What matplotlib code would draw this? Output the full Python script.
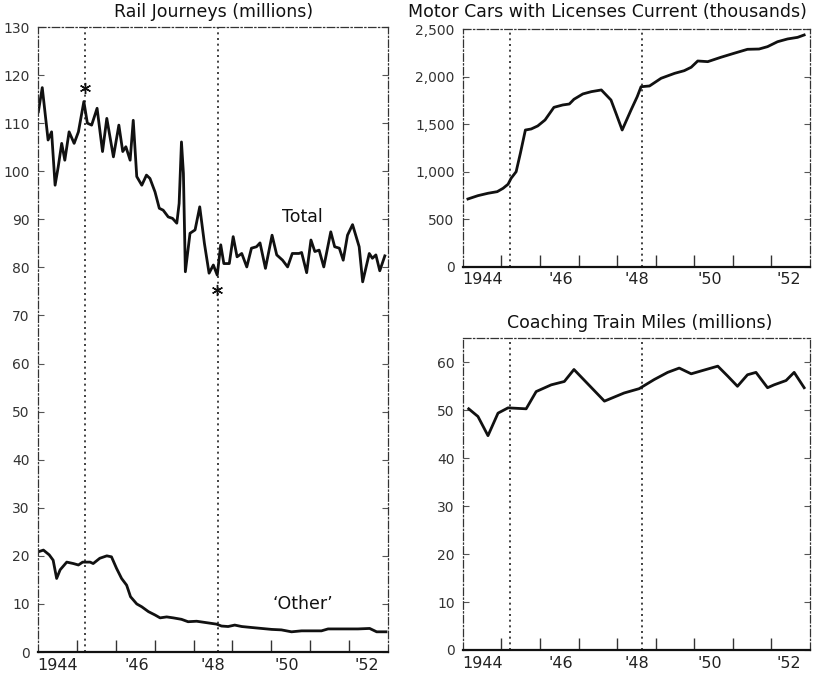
import matplotlib
matplotlib.use('Agg')
from matplotlib import pyplot as plt

# 数据 (从图上读出的近似值, 横轴为年份)
total_x = [1944.01, 1944.11, 1944.26, 1944.35, 1944.44, 1944.52, 1944.61, 1944.69, 1944.80, 1944.93,
           1945.04, 1945.18, 1945.27, 1945.38, 1945.52, 1945.66, 1945.77, 1945.94, 1946.08, 1946.18,
           1946.26, 1946.37, 1946.45, 1946.54, 1946.67, 1946.79, 1946.88, 1947.01, 1947.12, 1947.22,
           1947.35, 1947.46, 1947.57, 1947.63, 1947.69, 1947.74, 1947.79, 1947.91, 1948.04, 1948.16,
           1948.28, 1948.40, 1948.51, 1948.61, 1948.70, 1948.78, 1948.92, 1949.02, 1949.12, 1949.24,
           1949.37, 1949.49, 1949.62, 1949.71, 1949.85, 1950.02, 1950.14, 1950.29, 1950.42, 1950.54,
           1950.71, 1950.78, 1950.91, 1951.02, 1951.12, 1951.23, 1951.35, 1951.53, 1951.63, 1951.75,
           1951.85, 1951.96, 1952.09, 1952.26, 1952.35, 1952.52, 1952.60, 1952.69, 1952.79, 1952.92]
total_y = [112.4, 117.4, 106.5, 108.2, 97.1, 100.9, 105.8, 102.3, 108.2, 105.8,
           108.2, 114.5, 110.0, 109.6, 113.1, 104.1, 111.0, 103.0, 109.6, 104.1,
           105.1, 102.3, 110.6, 98.9, 97.1, 99.2, 98.5, 95.7, 92.3, 91.9,
           90.5, 90.2, 89.2, 93.3, 106.1, 99.6, 79.1, 87.1, 87.8, 92.6,
           85.0, 78.8, 80.5, 78.4, 84.7, 80.8, 80.8, 86.4, 82.2, 82.9,
           80.1, 84.0, 84.3, 85.1, 79.8, 86.7, 82.6, 81.5, 80.1, 82.9,
           82.9, 83.1, 78.9, 85.7, 83.3, 83.6, 80.1, 87.4, 84.3, 84.0,
           81.5, 86.7, 88.9, 84.3, 77.0, 82.9, 81.9, 82.6, 79.3, 82.4]

other_x = [1944.03, 1944.14, 1944.29, 1944.39, 1944.48, 1944.57, 1944.74, 1944.91, 1945.04, 1945.15,
           1945.34, 1945.42, 1945.59, 1945.77, 1945.89, 1946.02, 1946.15, 1946.28, 1946.38, 1946.54,
           1946.67, 1946.84, 1947.01, 1947.14, 1947.31, 1947.48, 1947.69, 1947.86, 1948.08, 1948.25,
           1948.42, 1948.59, 1948.72, 1948.89, 1949.06, 1949.24, 1949.49, 1949.75, 1950.01, 1950.26,
           1950.52, 1950.78, 1951.04, 1951.29, 1951.46, 1951.68, 1951.94, 1952.23, 1952.53, 1952.71,
           1952.95]
other_y = [20.9, 21.2, 20.2, 19.1, 15.3, 17.1, 18.7, 18.4, 18.1, 18.7,
           18.7, 18.4, 19.5, 20.0, 19.8, 17.4, 15.3, 13.9, 11.5, 10.0,
           9.4, 8.4, 7.7, 7.1, 7.3, 7.1, 6.8, 6.3, 6.4, 6.2,
           6.0, 5.8, 5.4, 5.3, 5.6, 5.3, 5.1, 4.9, 4.7, 4.6,
           4.2, 4.4, 4.4, 4.4, 4.8, 4.8, 4.8, 4.8, 4.9, 4.2,
           4.2]

cars_x = [1944.13, 1944.39, 1944.65, 1944.89, 1945.04, 1945.17, 1945.25, 1945.38, 1945.49, 1945.62,
          1945.77, 1945.94, 1946.13, 1946.36, 1946.59, 1946.76, 1946.88, 1947.11, 1947.33, 1947.59,
          1947.84, 1947.97, 1948.13, 1948.36, 1948.52, 1948.62, 1948.84, 1949.14, 1949.49, 1949.74,
          1949.92, 1950.09, 1950.35, 1950.69, 1951.03, 1951.38, 1951.68, 1951.90, 1952.16, 1952.42,
          1952.68, 1952.85]
cars_y = [713, 748, 773, 790, 825, 868, 931, 1000, 1194, 1439,
          1450, 1482, 1545, 1678, 1703, 1713, 1763, 1819, 1843, 1861,
          1755, 1615, 1439, 1650, 1790, 1895, 1903, 1984, 2036, 2064,
          2100, 2166, 2159, 2205, 2247, 2289, 2292, 2317, 2369, 2398,
          2415, 2440]

miles_x = [1944.15, 1944.39, 1944.65, 1944.91, 1945.17, 1945.64, 1945.90, 1946.29, 1946.63, 1946.88,
           1947.67, 1948.18, 1948.57, 1948.96, 1949.31, 1949.61, 1949.92, 1950.22, 1950.61, 1950.87,
           1951.12, 1951.38, 1951.60, 1951.90, 1952.07, 1952.38, 1952.59, 1952.85]
miles_y = [50.3, 48.7, 44.7, 49.4, 50.5, 50.3, 53.9, 55.3, 56.0, 58.5,
           51.9, 53.6, 54.5, 56.4, 57.9, 58.8, 57.6, 58.3, 59.2, 57.1,
           55.0, 57.4, 57.9, 54.7, 55.3, 56.2, 57.9, 54.7]

year_ticks = [1945, 1946, 1947, 1948, 1949, 1950, 1951, 1952]
year_label_pos = [1944.5, 1946.55, 1948.5, 1950.4, 1952.45]
year_labels = ['1944', "'46", "'48", "'50", "'52"]
event_lines = [1945.22, 1948.64]
star_x = [1945.22, 1948.6]
star_y = [117.4, 75.4]

plt.rcParams['font.family'] = ['DejaVu Sans']
INK = '#111111'


def style_axes(ax, ylim, yticks, ylabels):
    ax.set_xlim(1944, 1953)
    ax.set_ylim(*ylim)
    ax.set_yticks(yticks)
    ax.set_yticklabels(ylabels, fontsize=10, color='#333333')
    ax.set_xticks(year_ticks)
    ax.set_xticklabels([''] * len(year_ticks))
    ax.set_xticks(year_label_pos, minor=True)
    ax.set_xticklabels(year_labels, minor=True, fontsize=11.5, color='#222222')
    ax.tick_params(axis='x', which='major', direction='in', length=9, width=1, color='#333333')
    ax.tick_params(axis='x', which='minor', length=0, pad=4)
    ax.tick_params(axis='y', direction='in', length=4, width=0.8, pad=6,
                   right=True, color='#555555')
    for side in ['left', 'right', 'top']:
        ax.spines[side].set_linestyle((0, (6, 2, 1, 2)))
        ax.spines[side].set_linewidth(0.9)
        ax.spines[side].set_color('#333333')
    ax.spines['bottom'].set_linewidth(1.6)
    ax.spines['bottom'].set_color(INK)
    for x in event_lines:  # 竖直虚线
        ax.axvline(x, color='#222222', linestyle=(0, (1.2, 2.2)), linewidth=1.2)


fig = plt.figure(figsize=(8.15, 6.76), dpi=100)

# 左图: 铁路旅客
ax1 = fig.add_axes([0.0466, 0.0355, 0.4294, 0.9245])
style_axes(ax1, (0, 130), range(0, 131, 10), [str(v) for v in range(0, 131, 10)])
ax1.plot(total_x, total_y, color=INK, linewidth=2.0)
ax1.plot(other_x, other_y, color=INK, linewidth=2.0)
ax1.plot(star_x, star_y, linestyle='none', marker=(6, 2, 0), markersize=8,
         color=INK, markeredgewidth=1.0)
ax1.text(1950.8, 90.5, 'Total', fontsize=12.5, ha='center', va='center', color=INK)
ax1.text(1950.8, 10.0, '\u2018Other\u2019', fontsize=12.5, ha='center', va='center', color=INK)
fig.text(0.262, 0.982, 'Rail Journeys (millions)', fontsize=12.5, ha='center', va='center', color=INK)

# 右上: 汽车
ax2 = fig.add_axes([0.568, 0.6055, 0.4258, 0.3512])
style_axes(ax2, (0, 2500), range(0, 2501, 500), ['0', '500', '1,000', '1,500', '2,000', '2,500'])
ax2.plot(cars_x, cars_y, color=INK, linewidth=2.0)
fig.text(0.745, 0.982, 'Motor Cars with Licenses Current (thousands)', fontsize=12.5,
         ha='center', va='center', color=INK)

# 右下: 列车里程
ax3 = fig.add_axes([0.568, 0.0385, 0.4258, 0.461])
style_axes(ax3, (0, 65), range(0, 61, 10), [str(v) for v in range(0, 61, 10)])
ax3.plot(miles_x, miles_y, color=INK, linewidth=2.0)
fig.text(0.785, 0.522, 'Coaching Train Miles (millions)', fontsize=12.5,
         ha='center', va='center', color=INK)

fig.savefig('out.png', dpi=100)
